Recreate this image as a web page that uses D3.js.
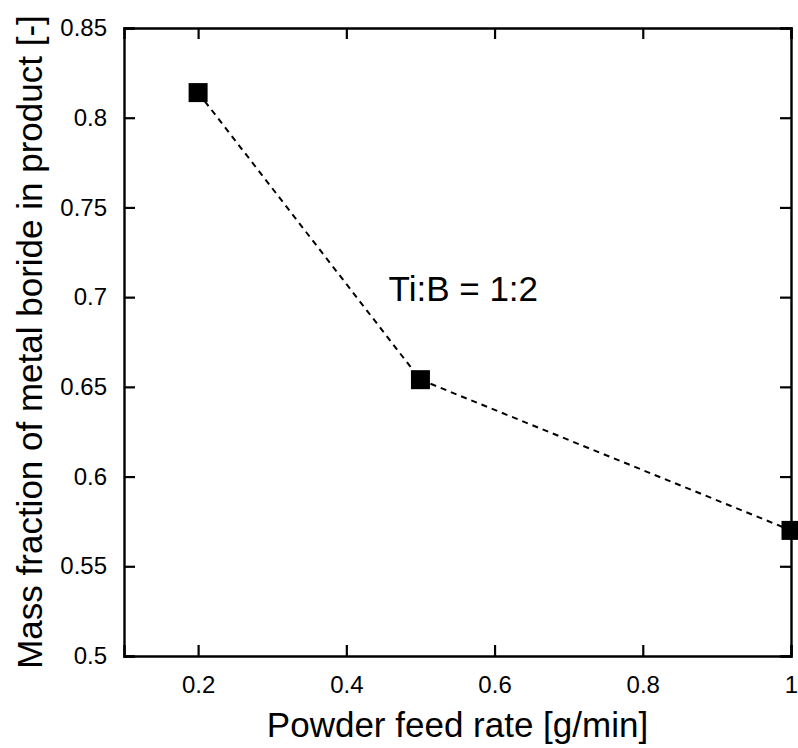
<!DOCTYPE html>
<html>
<head>
<meta charset="utf-8">
<script src="https://cdn.jsdelivr.net/npm/d3@7"></script>
<style>
  body { margin: 0; background: #fff; }
  svg { display: block; font-family: "Liberation Sans", Arial, sans-serif; }
</style>
</head>
<body>
<div id="chart"></div>
<script>
// data
const feedRate = [0.2, 0.5, 1.0];
const massFraction = [0.814, 0.654, 0.570];
const xTicks = [0.2, 0.4, 0.6, 0.8, 1];
const yTicks = [0.5, 0.55, 0.6, 0.65, 0.7, 0.75, 0.8, 0.85];
const note = "Ti:B = 1:2";

const width = 798, height = 748;
const margin = {left: 124, right: 7, top: 28, bottom: 92};

const svg = d3.select("#chart").append("svg")
  .attr("width", width)
  .attr("height", height);

const x = d3.scaleLinear().domain([0.1, 1]).range([margin.left, width - margin.right]);
const y = d3.scaleLinear().domain([0.5, 0.85]).range([height - margin.bottom, margin.top]);

const fmt = d => String(+d.toFixed(2));
const tickLen = 11;

// axes: ticks point inward, mirrored on top / right
const axBottom = svg.append("g")
  .attr("transform", `translate(0,${y(0.5)})`)
  .call(d3.axisBottom(x).tickValues(xTicks).tickSize(-tickLen).tickPadding(20).tickFormat(fmt));
const axTop = svg.append("g")
  .attr("transform", `translate(0,${y(0.85)})`)
  .call(d3.axisTop(x).tickValues(xTicks).tickSize(-tickLen).tickFormat(""));
const axLeft = svg.append("g")
  .attr("transform", `translate(${x(0.1)},0)`)
  .call(d3.axisLeft(y).tickValues(yTicks).tickSize(-tickLen).tickPadding(17).tickFormat(fmt));
const axRight = svg.append("g")
  .attr("transform", `translate(${x(1)},0)`)
  .call(d3.axisRight(y).tickValues(yTicks).tickSize(-tickLen).tickFormat(""));

[axBottom, axTop, axLeft, axRight].forEach(g => {
  g.attr("font-family", null).attr("font-size", null);
  g.select(".domain").attr("stroke", "#000").attr("stroke-width", 2.4);
  g.selectAll(".tick line").attr("stroke", "#000").attr("stroke-width", 2.2);
  g.selectAll(".tick text")
    .attr("fill", "#000")
    .style("font-family", "'Liberation Sans', Arial, sans-serif")
    .style("font-size", "24px");
});

// dashed connecting line
const line = d3.line()
  .x((d, i) => x(feedRate[i]))
  .y(d => y(d));

svg.append("path")
  .datum(massFraction)
  .attr("fill", "none")
  .attr("stroke", "#000")
  .attr("stroke-width", 2)
  .attr("stroke-dasharray", "6,5")
  .attr("d", line);

// square markers
const size = 19;
svg.selectAll("rect.pt")
  .data(massFraction)
  .enter()
  .append("rect")
  .attr("class", "pt")
  .attr("x", (d, i) => x(feedRate[i]) - size / 2)
  .attr("y", d => y(d) - size / 2)
  .attr("width", size)
  .attr("height", size)
  .attr("fill", "#000");

// annotation
svg.append("text")
  .attr("x", x(0.457))
  .attr("y", y(0.7) + 4)
  .style("font-size", "35px")
  .text(note);

// axis titles
svg.append("text")
  .attr("x", (x(0.1) + x(1)) / 2)
  .attr("y", 737)
  .attr("text-anchor", "middle")
  .style("font-size", "35px")
  .text("Powder feed rate [g/min]");

svg.append("text")
  .attr("transform", `translate(42,${(y(0.5) + y(0.85)) / 2}) rotate(-90)`)
  .attr("text-anchor", "middle")
  .style("font-size", "35px")
  .text("Mass fraction of metal boride in product [-]");
</script>
</body>
</html>
